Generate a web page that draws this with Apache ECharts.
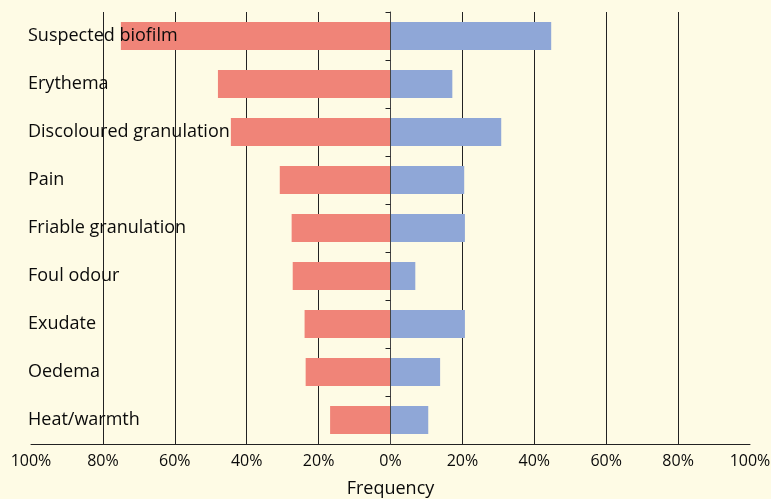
<!DOCTYPE html>
<html>
<head>
<meta charset="utf-8">
<script src="https://cdn.jsdelivr.net/npm/echarts@6/dist/echarts.min.js"></script>
<style>
html,body{margin:0;padding:0;background:#FEFBE5;}
#c{width:771px;height:499px;}
</style>
</head>
<body>
<div id="c"></div>
<script>
const categories = ["Suspected biofilm","Erythema","Discoloured granulation","Pain","Friable granulation","Foul odour","Exudate","Oedema","Heat/warmth"];
const leftValues = [75.0, 48.0, 44.4, 30.8, 27.5, 27.2, 23.9, 23.6, 16.8];
const rightValues = [44.7, 17.2, 30.8, 20.5, 20.7, 6.9, 20.7, 13.8, 10.5];
const axisTicks = [-100, -80, -60, -40, -20, 0, 20, 40, 60, 80, 100];

const FONT = '"Open Sans"';
const chart = echarts.init(document.getElementById('c'), null, {renderer:'canvas'});
chart.setOption({
  backgroundColor: '#FEFBE5',
  animation: false,
  grid: {left: 31, right: 21, top: 12, bottom: 55, containLabel: false, outerBoundsMode: 'none'},
  xAxis: {
    type: 'value', min: axisTicks[0], max: axisTicks[axisTicks.length-1], interval: 20,
    name: 'Frequency', nameLocation: 'middle', nameGap: 36,
    nameTextStyle: {fontFamily: FONT, fontSize: 18, color: '#0a0a0a'},
    axisLine: {show: true, lineStyle: {color: '#222', width: 1}},
    axisTick: {show: false},
    axisLabel: {fontFamily: FONT, fontSize: 16, color: '#0a0a0a', margin: 9,
      formatter: v => Math.abs(v) + '%'},
    splitLine: {show: true, showMinLine: false, showMaxLine: false, lineStyle: {color: '#222', width: 1}}
  },
  yAxis: [
    {
      type: 'category', data: categories, inverse: true,
      axisLine: {show: true, onZero: true, lineStyle: {color: '#444', width: 1}},
      axisTick: {show: true, length: 5, lineStyle: {color: '#222'}},
      axisLabel: {show: false},
      z: 5
    },
    {
      type: 'category', data: categories, inverse: true, position: 'left',
      axisLine: {show: false, onZero: false},
      axisTick: {show: false},
      axisLabel: {show: true, inside: true, margin: -3, fontFamily: FONT, fontSize: 18, color: '#0a0a0a'},
      z: 10
    }
  ],
  series: [
    {type: 'bar', stack: 'a', yAxisIndex: 0, barWidth: 28,
     data: leftValues.map(v => -v), itemStyle: {color: '#F08478'}},
    {type: 'bar', stack: 'a', yAxisIndex: 0, barWidth: 28,
     data: rightValues, itemStyle: {color: '#8FA7D7'}}
  ]
});
</script>
</body>
</html>
